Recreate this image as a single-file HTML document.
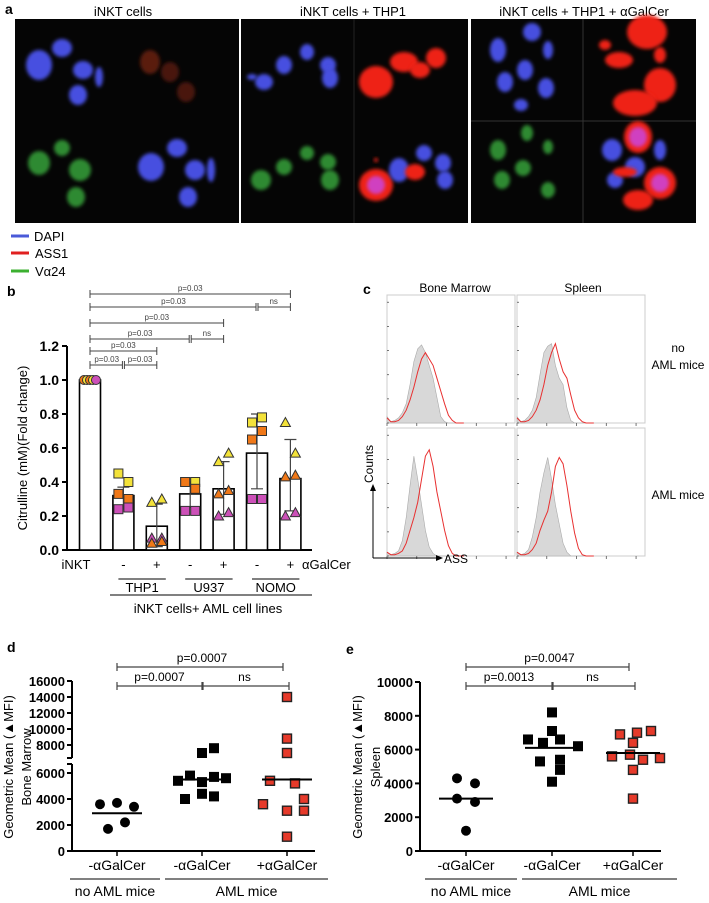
<!DOCTYPE html>
<html><head><meta charset="utf-8"><style>
html,body{margin:0;padding:0;background:#fff;}
svg{display:block;font-family:"Liberation Sans",Arial,sans-serif;}
</style></head><body>
<svg id="fig" width="709" height="903" viewBox="0 0 709 903">
<defs>
<filter id="bl" x="-50%" y="-50%" width="200%" height="200%"><feGaussianBlur stdDeviation="1.8"/></filter>
</defs>
<g id="pa">
<text x="5" y="14" font-size="14" font-weight="bold">a</text>
<text x="123" y="16" font-size="13" text-anchor="middle">iNKT cells</text>
<text x="353" y="16" font-size="13" text-anchor="middle">iNKT cells + THP1</text>
<text x="584" y="16" font-size="13" text-anchor="middle">iNKT cells + THP1 + αGalCer</text>
<rect x="15" y="19" width="224" height="204" fill="#050505"/>
<rect x="241" y="19" width="227" height="204" fill="#050505"/>
<rect x="471" y="19" width="225" height="204" fill="#050505"/>
<line x1="354" y1="19" x2="354" y2="223" stroke="#222" stroke-width="1"/>
<line x1="583" y1="19" x2="583" y2="223" stroke="#333" stroke-width="1"/>
<line x1="471" y1="121" x2="696" y2="121" stroke="#333" stroke-width="1"/>
<g id="cells"></g>
<line x1="11" y1="236" x2="29" y2="236" stroke="#4a5ad8" stroke-width="3"/>
<text x="34" y="241" font-size="13">DAPI</text>
<line x1="11" y1="253" x2="29" y2="253" stroke="#e02020" stroke-width="3"/>
<text x="35" y="258" font-size="13">ASS1</text>
<line x1="11" y1="271" x2="29" y2="271" stroke="#3cb030" stroke-width="3"/>
<text x="35" y="276" font-size="13">Vα24</text>
</g>
<g id="pb"></g>
<g id="pc"></g>
<g id="pd"></g>
<g id="pe"></g>
</svg>
<script>
// ---------- Panel b data ----------
const bCategories = ["iNKT","THP1-","THP1+","U937-","U937+","NOMO-","NOMO+"];
const bMeans = [1.0, 0.32, 0.14, 0.33, 0.36, 0.57, 0.42];
const bErrLow = [1.0, 0.24, 0.02, 0.25, 0.21, 0.36, 0.23];
const bErrHigh = [1.0, 0.37, 0.27, 0.40, 0.52, 0.80, 0.65];
const bPointVals = [
 [1.0,1.0,1.0,1.0,1.0],
 [0.45,0.40,0.33,0.30,0.24,0.25],
 [0.28,0.30,0.07,0.07,0.04,0.05],
 [0.40,0.40,0.40,0.36,0.23,0.23],
 [0.52,0.57,0.33,0.35,0.20,0.22],
 [0.75,0.78,0.65,0.70,0.30,0.30],
 [0.75,0.57,0.43,0.44,0.20,0.22]
];
const bPointColors = [
 ["o","y","o","y","m"],
 ["y","y","o","o","m","m"],
 ["y","y","m","m","o","o"],
 ["y","y","o","o","m","m"],
 ["y","y","o","o","m","m"],
 ["y","y","o","o","m","m"],
 ["y","y","o","o","m","m"]
];
const bShapes = ["circle","square","triangle","square","triangle","square","triangle"];
const bYTicks = [0.0,0.2,0.4,0.6,0.8,1.0,1.2];
const bYTickLabels = ["0.0","0.2","0.4","0.6","0.8","1.0","1.2"];
// ---------- Panel c data ----------
const cGreyTL=[0.05,0.01,0.02,0.04,0.08,0.15,0.3,0.48,0.58,0.61,0.55,0.45,0.35,0.2,0.05,0.01,0,0,0,0,0];
const cRedTL=[0.04,0.01,0.01,0.02,0.05,0.1,0.18,0.28,0.4,0.5,0.55,0.5,0.45,0.35,0.25,0.15,0.06,0.02,0,0,0];
const cGreyTR=[0.05,0.01,0.02,0.05,0.1,0.2,0.38,0.55,0.6,0.62,0.45,0.35,0.3,0.12,0.02,0,0,0,0,0,0];
const cRedTR=[0.04,0.01,0.01,0.02,0.05,0.1,0.18,0.3,0.45,0.55,0.62,0.5,0.4,0.35,0.22,0.1,0.04,0.01,0,0,0];
const cGreyBL=[0.03,0.01,0.02,0.04,0.12,0.3,0.55,0.78,0.6,0.4,0.2,0.07,0.02,0,0,0,0,0,0,0,0];
const cRedBL=[0.03,0.01,0.01,0.02,0.04,0.1,0.2,0.3,0.42,0.6,0.78,0.83,0.7,0.5,0.35,0.2,0.08,0.02,0,0,0];
const cGreyBR=[0.03,0.01,0.02,0.05,0.15,0.3,0.5,0.65,0.77,0.6,0.4,0.25,0.1,0.03,0,0,0,0,0,0,0];
const cRedBR=[0.03,0.01,0.01,0.02,0.05,0.1,0.2,0.28,0.35,0.5,0.7,0.77,0.72,0.55,0.35,0.18,0.06,0.01,0,0,0];
// ---------- Panel d data ----------
const dGroups = ["-αGalCer","-αGalCer","+αGalCer"];
const dNoAml = [3600,3700,3400,1700,2200];
const dAmlMinus = [5400,5800,5300,5700,5600,4000,4400,4200,7600,7000];
const dAmlPlus = [14000,8800,7000,5400,5200,3600,4000,3100,3100,1100];
const dMedians = [2900,5500,5500];
const dYTicksLow = [0,2000,4000,6000];
const dYTicksHigh = [8000,10000,12000,14000,16000];
// ---------- Panel e data ----------
const eGroups = ["-αGalCer","-αGalCer","+αGalCer"];
const eNoAml = [4300,4000,3100,2900,1200];
const eAmlMinus = [8200,7100,6600,6400,6600,6200,5300,5400,4800,4100];
const eAmlPlus = [6900,7000,7100,6400,5600,5700,5400,5500,4800,3100];
const eMedians = [3100,6100,5800];
const eYTicks = [0,2000,4000,6000,8000,10000];

const NS="http://www.w3.org/2000/svg";
function mk(tag, parent, attrs){const e=document.createElementNS(NS,tag);for(const k in attrs)e.setAttribute(k,attrs[k]);parent.appendChild(e);return e;}
function txt(parent, x, y, s, size, anchor, extra){const t=mk("text",parent,Object.assign({x:x,y:y,"font-size":size,"text-anchor":anchor||"start"},extra||{}));t.textContent=s;return t;}

// ---------- Panel a cells ----------
(function(){
 const g=document.getElementById("cells");
 const B="#4650e0",R="#ee2418",G="#2f8a30",M="#d040c0";
 const cells=[
 [39,65,13,15,B],[62,48,10,9,B],[83,70,10,9,B],[78,95,9,10,B],[99,77,4,10,B],
 [150,62,10,12,"#5a1a10"],[170,72,9,10,"#4a1810"],[186,92,9,10,"#4a1810"],
 [39,163,11,12,G],[80,170,11,11,G],[76,197,9,10,G],[62,148,8,8,G],
 [151,167,13,14,B],[177,148,10,9,B],[195,170,10,10,B],[188,197,9,10,B],[211,170,4,12,B],
 [264,82,9,8,B],[284,65,8,9,B],[307,52,7,8,B],[328,65,8,8,B],[330,78,8,10,B],[252,77,5,3,B],
 [376,82,17,16,R],[404,62,14,10,R],[436,58,10,10,R],[420,70,10,8,R],[376,160,2,2,R],
 [261,180,10,10,G],[284,167,8,8,G],[307,153,7,7,G],[328,162,8,8,G],[330,180,9,10,G],
 [376,185,17,16,R],[376,185,9,9,M],[399,170,10,12,B],[424,153,8,8,B],[443,163,8,9,B],[445,180,8,9,B],[415,172,10,8,R],
 [532,32,9,9,B],[498,50,8,12,B],[548,50,5,9,B],[525,70,8,10,B],[505,82,8,10,B],[546,88,8,10,B],[521,105,7,6,B],
 [647,32,20,17,R],[660,85,16,17,R],[635,103,22,13,R],[619,60,14,8,R],[605,45,6,5,R],[660,55,6,8,R],
 [498,150,8,10,G],[527,133,6,8,G],[548,147,5,7,G],[523,168,8,8,G],[502,180,8,9,G],[548,190,7,8,G],
 [638,137,14,16,R],[638,137,9,10,M],[660,183,16,16,R],[660,183,9,9,M],[638,200,15,10,R],
 [612,150,10,11,B],[635,167,10,10,B],[615,180,8,8,B],[660,150,6,10,B],[625,172,12,5,R]
 ];
 cells.forEach(c=>{
  const e=mk("ellipse",g,{cx:c[0],cy:c[1],rx:c[2],ry:c[3],fill:c[4],filter:"url(#bl)"});
  
  
 });
})();

// ---------- Panel b ----------
(function(){
 const g=document.getElementById("pb");
 const x0=67,y0=550,perUnit=170;
 const yS=v=>y0-v*perUnit;
 const xS=i=>90+i*33.4;
 const lab=txt(g,7,296,"b",14,"start",{"font-weight":"bold"});
 
 
 const ax=mk("line",g,{x1:x0,y1:yS(1.2),x2:x0,y2:y0,stroke:"#000","stroke-width":2});
 
 
 const xa=mk("line",g,{x1:x0,y1:y0,x2:312,y2:y0,stroke:"#000","stroke-width":2});
 
 
 bYTicks.forEach((v,i)=>{
  mk("line",g,{x1:x0-5,y1:yS(v),x2:x0,y2:yS(v),stroke:"#000","stroke-width":2});
  const t=txt(g,x0-8,yS(v)+5,bYTickLabels[i],14,"end",{"font-weight":"bold"});
  
  
 });
 const yt=txt(g,0,0,"Citrulline (mM)(Fold change)",13,"middle",{transform:"translate(27,448) rotate(-90)"});
 
 
 const cols={y:"#f3e23a",o:"#f07818",m:"#cc50b8"};
 bCategories.forEach((c,i)=>{
  const cx=xS(i),w=21;
  const bar=mk("rect",g,{x:cx-w/2,y:yS(bMeans[i]),width:w,height:y0-yS(bMeans[i]),fill:"#fff",stroke:"#000","stroke-width":1.6});
  
  
  if(i>0){
   const eb=mk("path",g,{d:`M${cx},${yS(bErrLow[i])}V${yS(bErrHigh[i])}M${cx-6},${yS(bErrHigh[i])}H${cx+6}M${cx-6},${yS(bErrLow[i])}H${cx+6}`,stroke:"#444","stroke-width":1.2,fill:"none"});
   
   
  }
  const vals=bPointVals[i];
  vals.forEach((v,j)=>{
   const off=i===0?(j-2)*3:(j%2===0?-5:5);
   const px=cx+off,py=yS(v),col=cols[bPointColors[i][j]];
   let m;
   if(bShapes[i]==="circle") m=mk("circle",g,{cx:px,cy:py,r:4.5,fill:col,stroke:"#333","stroke-width":1});
   else if(bShapes[i]==="square") m=mk("rect",g,{x:px-4.5,y:py-4.5,width:9,height:9,fill:col,stroke:"#333","stroke-width":1});
   else m=mk("path",g,{d:`M${px},${py-5}L${px+5},${py+4}L${px-5},${py+4}Z`,fill:col,stroke:"#333","stroke-width":1});
   
   
  });
 });
 const xl=["iNKT","-","+","-","+","-","+"];
 xl.forEach((s,i)=>{
  const t=txt(g,i===0?xS(0)-14:xS(i),569,s,13,"middle");
  
  
 });
 const ag=txt(g,302,569,"αGalCer",13,"start");
 
 
 [["THP1",1],["U937",3],["NOMO",5]].forEach(p=>{
  const a=xS(p[1])-5,b=xS(p[1]+1)+9;
  mk("line",g,{x1:a,y1:579,x2:b,y2:579,stroke:"#000","stroke-width":1});
  const t=txt(g,(a+b)/2,592,p[0],13,"middle");
  
  
 });
 mk("line",g,{x1:110,y1:595,x2:312,y2:595,stroke:"#000","stroke-width":1});
 const gl=txt(g,208,613,"iNKT cells+ AML  cell lines",13,"middle");
 
 
 const br=[[294,0,6,null,"p=0.03"],[307,0,5,6,"p=0.03"],[323,0,4,null,"p=0.03"],[339,0,3,4,"p=0.03"],[351,0,2,null,"p=0.03"],[365,0,1,2,"p=0.03"]];
 br.forEach(b=>{
  const y=b[0],a=xS(b[1]);
  if(b[3]===null){
   const e=xS(b[2]);
   mk("path",g,{d:`M${a},${y-4}V${y+4}M${a},${y}H${e}M${e},${y-4}V${y+4}`,stroke:"#444","stroke-width":1,fill:"none"});
   txt(g,(a+e)/2,y-3,b[4],8,"middle",{fill:"#444"});
  } else {
   const m=xS(b[2]),e=xS(b[3]);
   mk("path",g,{d:`M${a},${y-4}V${y+4}M${a},${y}H${m-1}M${m-1},${y-4}V${y+4}M${m+1},${y-4}V${y+4}M${m+1},${y}H${e}M${e},${y-4}V${y+4}`,stroke:"#444","stroke-width":1,fill:"none"});
   txt(g,(a+m)/2,y-3,b[4],8,"middle",{fill:"#444"});
   txt(g,(m+e)/2,y-3,b[1]===0&&b[2]===1?"p=0.03":"ns",8,"middle",{fill:"#444"});
  }
 });
})();

// ---------- Panel c ----------
(function(){
 const g=document.getElementById("pc");
 const l=txt(g,363,294,"c",14,"start",{"font-weight":"bold"});
 
 
 const h1=txt(g,455,292,"Bone Marrow",12,"middle");
 
 
 const h2=txt(g,583,292,"Spleen",12,"middle");
 
 
 const plots=[[387,295,cGreyTL,cRedTL,"bm-no-aml"],[517,295,cGreyTR,cRedTR,"spleen-no-aml"],[387,428,cGreyBL,cRedBL,"bm-aml"],[517,428,cGreyBR,cRedBR,"spleen-aml"]];
 const W=128,H=128;
 plots.forEach(p=>{
  const [x,y,gr,rd,nm]=p;
  const box=mk("rect",g,{x:x,y:y,width:W,height:H,fill:"#fff",stroke:"#ccc","stroke-width":1});
  
  
  const xS=i=>x+i*0.03*W, yS=v=>y+H-v*H;
  let d=`M${x},${y+H}`;gr.forEach((v,i)=>d+=`L${xS(i)},${yS(v)}`);d+=`L${xS(gr.length-1)},${y+H}Z`;
  const gp=mk("path",g,{d:d,fill:"#d8d8d8",stroke:"#aaa","stroke-width":0.6});
  
  
  let d2="";rd.forEach((v,i)=>d2+=(i?"L":"M")+xS(i)+","+yS(v));
  const rp=mk("path",g,{d:d2,fill:"none",stroke:"#e83030","stroke-width":1});
  
  
  for(let k=0;k<6;k++){mk("line",g,{x1:x,y1:y+H-k*H/5.3,x2:x+2,y2:y+H-k*H/5.3,stroke:"#555","stroke-width":0.8});}
  for(let k=0;k<5;k++){const tx=x+k*W/4.3;mk("line",g,{x1:tx,y1:y+H,x2:tx,y2:y+H+3,stroke:"#555","stroke-width":0.8});}
 });
 const r1=txt(g,678,352,"no",12,"middle");
 const r2=txt(g,678,369,"AML mice",12,"middle");
 const r3=txt(g,678,499,"AML mice",12,"middle");
 mk("path",g,{d:"M373,558V488M373,558H438",stroke:"#000","stroke-width":1,fill:"none"});
 mk("path",g,{d:"M370,491L373,484L376,491Z",fill:"#000"});
 mk("path",g,{d:"M436,555L443,558L436,561Z",fill:"#000"});
 const ct=txt(g,0,0,"Counts",12,"middle",{transform:"translate(373,464) rotate(-90)"});
 
 const as=txt(g,444,563,"ASS",12,"start");
 
})();

// ---------- dot plots ----------
function dotPanel(gid,opt){
 const g=document.getElementById(gid);
 const {ax,xc,yS,ticks,groups,sets,medians,medW,label,labelX,t1,t2,brk}=opt;
 const l=txt(g,labelX,opt.labelY,label,14,"start",{"font-weight":"bold"});
 
 
 if(brk){
  mk("line",g,{x1:ax,y1:yS(16000),x2:ax,y2:758,stroke:"#000","stroke-width":2});
  mk("line",g,{x1:ax-5,y1:758,x2:ax,y2:758,stroke:"#000","stroke-width":2});
  mk("line",g,{x1:ax,y1:764,x2:ax,y2:851,stroke:"#000","stroke-width":2});
  mk("line",g,{x1:ax-5,y1:764,x2:ax,y2:764,stroke:"#000","stroke-width":2});
 } else {
  mk("line",g,{x1:ax,y1:yS(10000),x2:ax,y2:851,stroke:"#000","stroke-width":2});
 }
 const xa=mk("line",g,{x1:ax,y1:851,x2:xc[2]+28,y2:851,stroke:"#000","stroke-width":2});
 
 
 ticks.forEach(v=>{
  mk("line",g,{x1:ax-5,y1:yS(v),x2:ax,y2:yS(v),stroke:"#000","stroke-width":2});
  const t=txt(g,ax-7,yS(v)+5,String(v),13,"end",{"font-weight":"bold"});
  
  
 });
 groups.forEach((s,i)=>{
  mk("line",g,{x1:xc[i],y1:851,x2:xc[i],y2:856,stroke:"#000","stroke-width":1.5});
  const t=txt(g,xc[i],870,s,14,"middle");
  
  
 });
 const offs=[[-17,0,17,-9,8],[-24,-12,0,12,24,-17,0,12,12,0],[0,0,0,-17,8,-24,17,0,17,0]];
 const offsE=[[-9,9,-9,9,0],[0,0,-24,-9,8,26,-12,8,8,0],[-13,4,18,0,-21,-3,10,27,0,0]];
 const o=opt.offs==="e"?offsE:offs;
 sets.forEach((arr,si)=>{
  arr.forEach((v,j)=>{
   const px=xc[si]+o[si][j],py=yS(v);
   let m;
   if(si===0) m=mk("circle",g,{cx:px,cy:py,r:5,fill:"#000"});
   else if(si===1) m=mk("rect",g,{x:px-5,y:py-5,width:10,height:10,fill:"#000"});
   else m=mk("rect",g,{x:px-4.5,y:py-4.5,width:9,height:9,fill:"#e63a2a",stroke:"#222","stroke-width":1.4});
   
   
  });
  const md=mk("line",g,{x1:xc[si]-medW,y1:yS(medians[si]),x2:xc[si]+medW,y2:yS(medians[si]),stroke:"#000","stroke-width":2});
  
  
 });
 const b1=667,b2=686;
 mk("path",g,{d:`M${xc[0]},${b1-4}V${b1+4}M${xc[0]},${b1}H${xc[2]-4}M${xc[2]-4},${b1-4}V${b1+4}`,stroke:"#444","stroke-width":1.2,fill:"none"});
 txt(g,(xc[0]+xc[2])/2,b1-5,t1,12,"middle");
 mk("path",g,{d:`M${xc[0]},${b2-4}V${b2+4}M${xc[0]},${b2}H${xc[1]}M${xc[1]},${b2-4}V${b2+4}M${xc[1]+1},${b2-4}V${b2+4}M${xc[1]+1},${b2}H${xc[2]+2}M${xc[2]+2},${b2-4}V${b2+4}`,stroke:"#444","stroke-width":1.2,fill:"none"});
 txt(g,(xc[0]+xc[1])/2,b2-5,t2,12,"middle");
 txt(g,(xc[1]+xc[2])/2,b2-5,"ns",12,"middle");
 mk("line",g,{x1:opt.gl[0],y1:879,x2:opt.gl[1],y2:879,stroke:"#000","stroke-width":1});
 mk("line",g,{x1:opt.gl[2],y1:879,x2:opt.gl[3],y2:879,stroke:"#000","stroke-width":1});
 const n1=txt(g,(opt.gl[0]+opt.gl[1])/2,896,"no AML mice",14,"middle");
 
 const n2=txt(g,(opt.gl[2]+opt.gl[3])/2,896,"AML mice",14,"middle");
 
 const y1=txt(g,0,0,"Geometric Mean (▲MFI)",13,"middle",{transform:`translate(${opt.ylx},${opt.yly}) rotate(-90)`});
 
 const y2=txt(g,0,0,opt.sub,13,"middle",{transform:`translate(${opt.ylx+18},${opt.yly}) rotate(-90)`});
 
}
dotPanel("pd",{ax:72,xc:[117,202,287],
 yS:v=>v<=6500?851-v*0.013:745-(v-8000)*0.008,
 ticks:dYTicksLow.concat(dYTicksHigh),groups:dGroups,sets:[dNoAml,dAmlMinus,dAmlPlus],medians:dMedians,medW:25,
 label:"d",labelX:7,labelY:652,t1:"p=0.0007",t2:"p=0.0007",brk:true,gl:[70,160,165,328],ylx:13,yly:767,sub:"Bone Marrow"});
dotPanel("pe",{ax:420,xc:[466,552,633],
 yS:v=>851-v*0.0169,
 ticks:eYTicks,groups:eGroups,sets:[eNoAml,eAmlMinus,eAmlPlus],medians:eMedians,medW:27,offs:"e",
 label:"e",labelX:346,labelY:654,t1:"p=0.0047",t2:"p=0.0013",brk:false,gl:[425,517,522,677],ylx:362,yly:767,sub:"Spleen"});
</script>
</body></html>
